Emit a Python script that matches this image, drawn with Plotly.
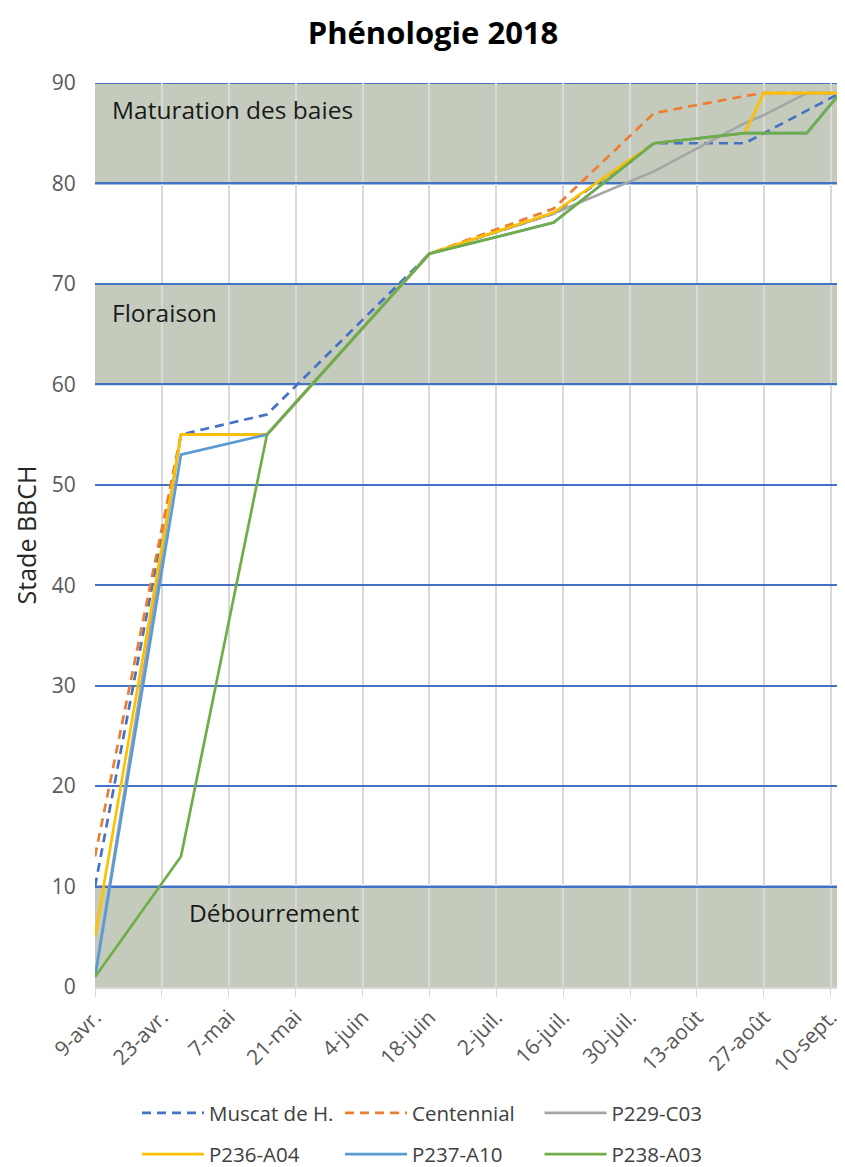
import plotly.graph_objects as go

# ---- data ----
dates = ["2018-04-09", "2018-04-27", "2018-05-15", "2018-06-18", "2018-07-14",
         "2018-08-04", "2018-08-23", "2018-08-27", "2018-09-05", "2018-09-12"]

muscat = [10, 55, 57, 73, 77, 84, 84, 85, 87.2, 89]
centennial = [13, 55, 55, 73, 77.5, 87, 88.7, 89, 89, 89]
p229 = [1, 55, 55, 73, 77, 81.2, 86, 86.8, 89, 89]
p236 = [5, 55, 55, 73, 77.1, 84, 85, 89, 89, 89]
p237 = [1, 53, 55, 73, 76.1, 84, 85, 85, 85, 89]
p238 = [1, 13, 55, 73, 76.1, 84, 85, 85, 85, 89]

series_names = ["Muscat de H.", "Centennial", "P229-C03", "P236-A04", "P237-A10", "P238-A03"]
series_values = [muscat, centennial, p229, p236, p237, p238]
series_colors = ["#4472C4", "#ED7D31", "#A5A5A5", "#FFC000", "#5B9BD5", "#70AD47"]
series_dash = ["9px,6px", "9px,6px", "solid", "solid", "solid", "solid"]

tick_dates = ["2018-04-09", "2018-04-23", "2018-05-07", "2018-05-21", "2018-06-04",
              "2018-06-18", "2018-07-02", "2018-07-16", "2018-07-30", "2018-08-13",
              "2018-08-27", "2018-09-10"]
tick_labels = ["9-avr.", "23-avr.", "7-mai", "21-mai", "4-juin", "18-juin", "2-juil.",
               "16-juil.", "30-juil.", "13-août", "27-août", "10-sept."]

band_names = ["Débourrement", "Floraison", "Maturation des baies"]
band_low = [0, 60, 80]
band_high = [10, 70, 90]

FONT = "Open Sans"

fig = go.Figure()

# legend placement (paper coords), 3 columns x 2 rows
leg_x = [0.0560, 0.3267, 0.5927, 0.0560, 0.3267, 0.5927]
leg_y = [-0.1394, -0.1394, -0.1394, -0.1850, -0.1850, -0.1850]

for i, (name, vals, col, dash) in enumerate(zip(series_names, series_values, series_colors, series_dash)):
    lg = "legend" if i == 0 else f"legend{i+1}"
    fig.add_trace(go.Scatter(
        x=dates, y=vals, mode="lines", name=name,
        line=dict(color=col, width=2.7, dash=dash),
        legend=lg,
    ))

# bands
for lo, hi in zip(band_low, band_high):
    fig.add_shape(type="rect", xref="paper", yref="y", x0=0, x1=1, y0=lo, y1=hi,
                  fillcolor="rgba(71,92,49,0.32)", line=dict(width=0), layer="between")
for v in sorted(set(band_low + band_high)):
    if v == 0:
        continue
    fig.add_shape(type="line", xref="paper", yref="y", x0=0, x1=1, y0=v, y1=v,
                  line=dict(color="#4472C4", width=2), layer="between")

# band labels
band_label_x = [0.122, 0.0200, 0.0200]
band_label_y = [7.4, 67.2, 87.4]
for name, bx, by in zip(band_names, band_label_x, band_label_y):
    fig.add_annotation(text=name, xref="paper", yref="y", x=bx, y=by,
                       xanchor="left", yanchor="middle", showarrow=False,
                       font=dict(family=FONT, size=24.5, color="#1a1a1a"))

layout_legends = {}
for i in range(6):
    key = "legend" if i == 0 else f"legend{i+1}"
    layout_legends[key] = dict(x=leg_x[i], y=leg_y[i], xanchor="left", yanchor="middle",
                               xref="paper", yref="paper", itemwidth=62,
                               bgcolor="rgba(0,0,0,0)",
                               font=dict(family=FONT, size=20.5, color="#404040"))

fig.update_layout(
    width=837, height=1159,
    margin=dict(l=87, r=0, t=75, b=180, autoexpand=False),
    plot_bgcolor="white", paper_bgcolor="white",
    title=dict(text="<b>Phénologie 2018</b>", x=0.5078, xanchor="center",
               y=0.9784, yanchor="middle",
               font=dict(family=FONT, size=31, color="#000000")),
    showlegend=True,
    **layout_legends,
)

fig.update_xaxes(
    type="date", range=["2018-04-09", "2018-09-13"],
    tickvals=tick_dates, ticktext=tick_labels, tickangle=-45,
    showgrid=True, gridcolor="#d9d9d9", gridwidth=1.5,
    ticks="outside", ticklen=8, tickcolor="#d9d9d9",
    showline=True, linecolor="#d9d9d9", linewidth=1.5,
    tickfont=dict(family=FONT, size=21, color="#595959"),
    zeroline=False, automargin=False,
)
fig.update_yaxes(
    range=[0, 90], dtick=10, tick0=0,
    showgrid=True, gridcolor="#4472C4", gridwidth=2,
    ticks="outside", ticklen=14, tickcolor="rgba(0,0,0,0)",
    tickfont=dict(family=FONT, size=21, color="#595959"),
    title=dict(text="Stade BBCH", standoff=8,
               font=dict(family=FONT, size=25, color="#262626")),
    zeroline=False, showline=False, automargin=False,
)

fig.write_html("out.html")
